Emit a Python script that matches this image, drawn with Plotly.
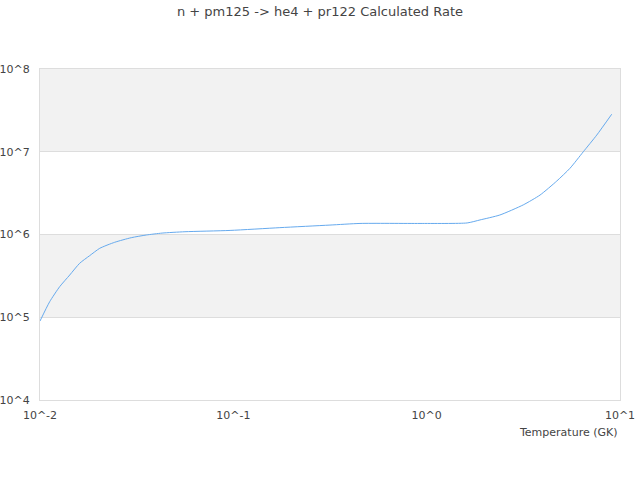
import plotly.graph_objects as go

# Temperature (GK) and calculated rate values
temperature = [0.01, 0.01122, 0.01264, 0.01425, 0.01604, 0.01807, 0.02037, 0.02433,
               0.02965, 0.03548, 0.0428, 0.0562, 0.0962, 0.174, 0.316, 0.452, 0.924,
               1.62, 1.888, 2.39, 3.16, 3.86, 4.71, 5.51, 6.46, 7.58, 9.06]
rate = [9.0e4, 1.54e5, 2.34e5, 3.24e5, 4.49e5, 5.55e5, 6.81e5, 8.05e5,
        9.15e5, 9.86e5, 1.04e6, 1.08e6, 1.12e6, 1.21e6, 1.30e6, 1.36e6, 1.36e6,
        1.38e6, 1.50e6, 1.72e6, 2.28e6, 3.00e6, 4.43e6, 6.31e6, 1.00e7, 1.59e7, 2.84e7]

x_ticks = [0.01, 0.1, 1, 10]
x_tick_labels = ["10^-2", "10^-1", "10^0", "10^1"]
y_ticks = [1e4, 1e5, 1e6, 1e7, 1e8]
y_tick_labels = ["10^4", "10^5", "10^6", "10^7", "10^8"]

title = "n + pm125 -> he4 + pr122 Calculated Rate"
x_title = "Temperature (GK)"

font = "DejaVu Sans"

fig = go.Figure()
fig.add_trace(go.Scatter(x=temperature, y=rate, mode="lines",
                         line=dict(color="#66aaee", width=1, shape="spline", smoothing=0.6),
                         hoverinfo="x+y", showlegend=False))

# alternating bands between decades
shapes = []
for i in range(1, len(y_ticks) - 1, 2):
    shapes.append(dict(type="rect", xref="paper", yref="y", x0=0, x1=1,
                       y0=y_ticks[i], y1=y_ticks[i + 1],
                       fillcolor="#f2f2f2", line=dict(width=0), layer="below"))

fig.update_layout(
    width=640, height=480,
    margin=dict(l=40, r=20, t=69, b=80),
    paper_bgcolor="white", plot_bgcolor="white",
    title=dict(text=title, x=0.5, xanchor="center", xref="container",
               yref="container", y=1, yanchor="top", pad=dict(t=7),
               font=dict(family=font, size=13, color="#444444")),
    font=dict(family=font, size=11, color="#444444"),
    shapes=shapes,
    annotations=[dict(text=x_title, xref="paper", yref="paper", x=1, y=0,
                      xanchor="right", yanchor="top", yshift=-24, showarrow=False,
                      font=dict(family=font, size=11, color="#444444"))],
)
fig.update_xaxes(type="log", range=[-2, 1], tickvals=x_ticks, ticktext=x_tick_labels,
                 showgrid=False, zeroline=False, showline=True, mirror=True,
                 linecolor="#dddddd", linewidth=1, ticks="outside", ticklen=5,
                 tickcolor="rgba(0,0,0,0)", tickfont=dict(size=11),
                 automargin=False)
fig.update_yaxes(type="log", range=[4, 8], tickvals=y_ticks, ticktext=y_tick_labels,
                 showgrid=True, gridcolor="#dddddd", gridwidth=1, zeroline=False,
                 showline=True, mirror=True, linecolor="#dddddd", linewidth=1,
                 ticks="", ticklabelstandoff=7, tickfont=dict(size=11),
                 automargin=False)

fig.write_html("out.html", config={"displayModeBar": False},
               post_script="document.body.style.margin='0';document.body.style.overflow='hidden';")
